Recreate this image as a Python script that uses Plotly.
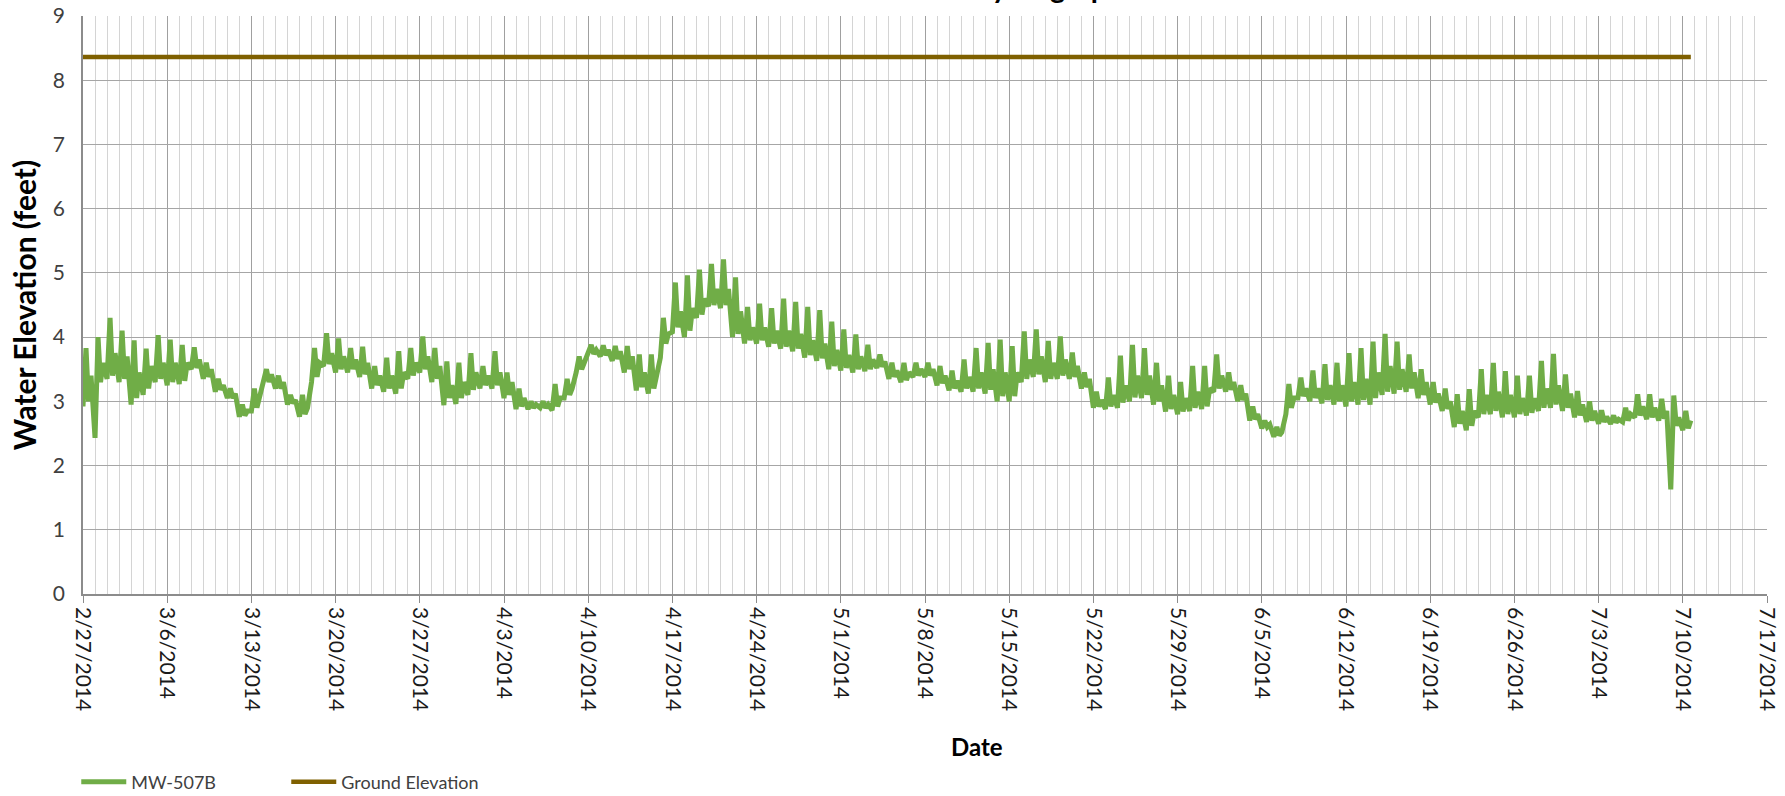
import pandas as pd
import plotly.graph_objects as go

# ---------------- data ----------------
start_date = "2014-02-27"
end_date = "2014-07-17"

# day index after 2/27/2014 (0 .. 133)
day_index = list(range(134))

# daily trough of MW-507B water elevation (feet)
daily_low = [
    2.92, 2.43, 3.35, 3.30, 2.95, 3.10, 3.30, 3.25, 3.27, 3.50,
    3.35, 3.15, 3.05, 2.76, 2.85, 3.25, 3.20, 2.95, 2.76, 3.30,
    3.55, 3.45, 3.45, 3.38, 3.20, 3.15, 3.12, 3.35, 3.45, 3.30,
    2.94, 2.96, 3.10, 3.20, 3.20, 3.05, 2.88, 2.88, 2.90, 2.86,
    3.05, 3.45, 3.72, 3.70, 3.63, 3.45, 3.17, 3.12, 3.68, 4.08,
    4.00, 4.30, 4.48, 4.45, 4.00, 3.90, 3.90, 3.85, 3.82, 3.78,
    3.68, 3.63, 3.50, 3.48, 3.45, 3.47, 3.52, 3.35, 3.30, 3.38,
    3.38, 3.25, 3.17, 3.15, 3.15, 3.12, 3.00, 3.00, 3.30, 3.38,
    3.30, 3.35, 3.35, 3.20, 2.90, 2.88, 2.90, 3.00, 3.05, 2.95,
    2.84, 2.80, 2.85, 2.88, 3.15, 3.15, 3.00, 2.70, 2.58, 2.45,
    2.80, 3.05, 3.00, 2.97, 2.95, 2.92, 2.95, 2.95, 3.10, 3.12,
    3.15, 3.05, 2.95, 2.85, 2.60, 2.55, 2.75, 2.80, 2.75, 2.75,
    2.78, 2.85, 2.90, 2.85, 2.75, 2.68, 2.65, 2.65, 2.68, 2.75,
    2.72, 2.70, 1.63, 2.55,
]

# daily peak (tidal spike) of MW-507B water elevation (feet)
daily_high = [
    3.83, 4.00, 4.30, 4.10, 3.95, 3.82, 4.03, 3.96, 3.88, 3.84,
    3.60, 3.35, 3.20, 2.95, 3.20, 3.50, 3.40, 3.10, 3.10, 3.83,
    4.06, 3.98, 3.83, 3.85, 3.55, 3.68, 3.78, 3.83, 4.01, 3.83,
    3.62, 3.60, 3.75, 3.55, 3.78, 3.45, 3.20, 3.00, 3.00, 3.27,
    3.35, 3.70, 3.88, 3.87, 3.86, 3.86, 3.73, 3.73, 4.30, 4.85,
    4.96, 5.05, 5.14, 5.21, 4.93, 4.47, 4.52, 4.45, 4.60, 4.55,
    4.47, 4.42, 4.24, 4.12, 4.04, 3.88, 3.73, 3.60, 3.60, 3.60,
    3.60, 3.55, 3.48, 3.65, 3.83, 3.91, 3.96, 3.86, 4.09, 4.12,
    3.94, 4.01, 3.76, 3.45, 3.15, 3.37, 3.71, 3.88, 3.83, 3.60,
    3.40, 3.30, 3.55, 3.55, 3.73, 3.45, 3.25, 2.92, 2.70, 2.60,
    3.27, 3.37, 3.48, 3.58, 3.60, 3.75, 3.83, 3.93, 4.05, 3.93,
    3.73, 3.50, 3.30, 3.20, 3.11, 3.19, 3.50, 3.60, 3.47, 3.40,
    3.40, 3.63, 3.74, 3.42, 3.16, 3.00, 2.86, 2.78, 2.90, 3.11,
    3.11, 3.04, 3.09, 2.85,
]

# second (shallower) daily trough (feet)
daily_trough2 = [
    3.00, 3.30, 3.40, 3.35, 3.05, 3.20, 3.35, 3.30, 3.32, 3.52,
    3.38, 3.18, 3.05, 2.78, 2.90, 3.30, 3.20, 2.97, 2.80, 3.38,
    3.58, 3.50, 3.50, 3.42, 3.25, 3.20, 3.20, 3.40, 3.50, 3.35,
    3.05, 3.05, 3.18, 3.25, 3.25, 3.10, 2.92, 2.90, 2.90, 2.92,
    3.10, 3.50, 3.74, 3.72, 3.66, 3.50, 3.22, 3.20, 3.90, 4.15,
    4.10, 4.35, 4.50, 4.50, 4.05, 3.95, 3.95, 3.90, 3.85, 3.82,
    3.72, 3.67, 3.55, 3.52, 3.50, 3.50, 3.54, 3.38, 3.33, 3.40,
    3.40, 3.28, 3.20, 3.20, 3.20, 3.18, 3.08, 3.08, 3.35, 3.42,
    3.35, 3.40, 3.38, 3.22, 2.92, 2.92, 2.98, 3.06, 3.10, 3.00,
    2.88, 2.84, 2.90, 2.92, 3.20, 3.18, 3.02, 2.72, 2.60, 2.47,
    2.90, 3.08, 3.05, 3.02, 3.00, 3.00, 3.02, 3.05, 3.15, 3.18,
    3.20, 3.10, 2.98, 2.88, 2.65, 2.62, 2.80, 2.85, 2.80, 2.80,
    2.82, 2.90, 2.95, 2.90, 2.78, 2.70, 2.68, 2.67, 2.70, 2.78,
    2.75, 2.73, 2.62, 2.58,
]

# second (smaller) daily tide peak, top of the dense band (feet)
daily_band = [
    3.40, 3.60, 3.75, 3.70, 3.45, 3.55, 3.60, 3.60, 3.60, 3.65,
    3.50, 3.25, 3.12, 2.85, 3.05, 3.42, 3.30, 3.02, 2.90, 3.60,
    3.75, 3.70, 3.65, 3.60, 3.40, 3.40, 3.45, 3.60, 3.70, 3.55,
    3.25, 3.30, 3.45, 3.40, 3.45, 3.30, 3.05, 2.95, 2.95, 3.05,
    3.20, 3.60, 3.80, 3.80, 3.78, 3.70, 3.45, 3.40, 4.05, 4.40,
    4.45, 4.60, 4.75, 4.75, 4.40, 4.15, 4.15, 4.10, 4.10, 4.05,
    3.95, 3.90, 3.80, 3.72, 3.70, 3.65, 3.62, 3.48, 3.45, 3.50,
    3.50, 3.40, 3.32, 3.38, 3.45, 3.50, 3.45, 3.45, 3.65, 3.70,
    3.60, 3.65, 3.55, 3.35, 3.02, 3.10, 3.25, 3.40, 3.40, 3.25,
    3.10, 3.05, 3.15, 3.20, 3.40, 3.30, 3.12, 2.80, 2.64, 2.52,
    3.05, 3.20, 3.20, 3.25, 3.25, 3.30, 3.35, 3.45, 3.55, 3.50,
    3.45, 3.30, 3.12, 3.00, 2.85, 2.85, 3.10, 3.15, 3.10, 3.05,
    3.05, 3.20, 3.25, 3.12, 2.95, 2.85, 2.76, 2.72, 2.80, 2.92,
    2.90, 2.85, 2.75, 2.70,
]

ground_dates = ["2014-02-27 00:00", "2014-07-10 16:00"]
ground_values = [8.36, 8.36]

series_names = ["MW-507B", "Ground Elevation"]
title_text = "Water Elevation Hydrograph"
x_title = "Date"
y_title = "Water Elevation (feet)"

# ---------------- build the series ----------------
t0 = pd.Timestamp(start_date)
mw_x, mw_y = [], []
for d, lo, hi, lo2, band in zip(day_index, daily_low, daily_high, daily_trough2, daily_band):
    for hours, val in ((0, lo), (6, hi), (11, lo2), (16, band)):
        mw_x.append(t0 + pd.Timedelta(days=d, hours=hours))
        mw_y.append(val)

FONT = "Lato"
DAY_MS = 86400000

fig = go.Figure()
fig.add_trace(go.Scatter(
    x=ground_dates, y=ground_values, mode="lines", name=series_names[1],
    line=dict(color="#7F6000", width=4.5),
))
fig.add_trace(go.Scatter(
    x=mw_x, y=mw_y, mode="lines", name=series_names[0],
    line=dict(color="#70AD47", width=5),
))

W, H = 1785, 796
L, R, T, B = 83, 18, 16, 202
plot_w = W - L - R
plot_h = H - T - B

fig.update_layout(
    width=W, height=H,
    margin=dict(l=L, r=R, t=T, b=B, pad=0, autoexpand=False),
    paper_bgcolor="white", plot_bgcolor="white",
    font=dict(family=FONT, color="#404040"),
    showlegend=True,
    legend=dict(
        orientation="h", x=-0.004, xanchor="left",
        yref="container", y=1 - 782 / H, yanchor="middle",
        font=dict(family=FONT, size=18, color="#404040"),
        traceorder="reversed", itemwidth=45,
        entrywidth=150, entrywidthmode="pixels",
        bgcolor="rgba(0,0,0,0)",
    ),
)

fig.update_xaxes(
    type="date", automargin=False,
    range=[start_date, end_date],
    tick0=start_date, dtick=7 * DAY_MS,
    tickformat="%-m/%-d/%Y", tickangle=90,
    tickfont=dict(family=FONT, size=21, color="#1a1a1a"),
    ticks="outside", ticklen=7, tickcolor="#8C8C8C", tickwidth=1.3,
    showgrid=True, gridcolor="#A0A0A0", gridwidth=1.3,
    minor=dict(dtick=DAY_MS, showgrid=True, gridcolor="#D4D4D4", gridwidth=1.4),
    showline=True, linecolor="#8C8C8C", linewidth=1.5,
    zeroline=False,
)

fig.update_yaxes(
    range=[0, 9], dtick=1, tick0=0, automargin=False,
    tickfont=dict(family=FONT, size=21, color="#404040"),
    ticks="outside", ticklen=0, ticklabelstandoff=12,
    showgrid=True, gridcolor="#A6A6A6", gridwidth=1.3,
    showline=True, linecolor="#8C8C8C", linewidth=1.5,
    zeroline=False,
    title=dict(text=y_title, font=dict(family=FONT, size=30, color="#000000", weight="bold"),
               standoff=7),
)

fig.add_annotation(
    text=x_title, xref="paper", yref="paper",
    x=(977 - L) / plot_w, y=(594 - 746) / plot_h,
    xanchor="center", yanchor="middle", showarrow=False,
    font=dict(family=FONT, size=24, color="#000000", weight="bold"),
)

fig.add_annotation(
    text=title_text, xref="paper", yref="paper",
    x=(940 - L) / plot_w, y=1, yshift=10,
    xanchor="center", yanchor="bottom", showarrow=False,
    font=dict(family=FONT, size=29, color="#000000", weight="bold"),
)

fig.write_html(
    "out.html",
    config={"displayModeBar": False},
    post_script="document.body.style.margin='0';document.body.style.overflow='hidden';",
)
